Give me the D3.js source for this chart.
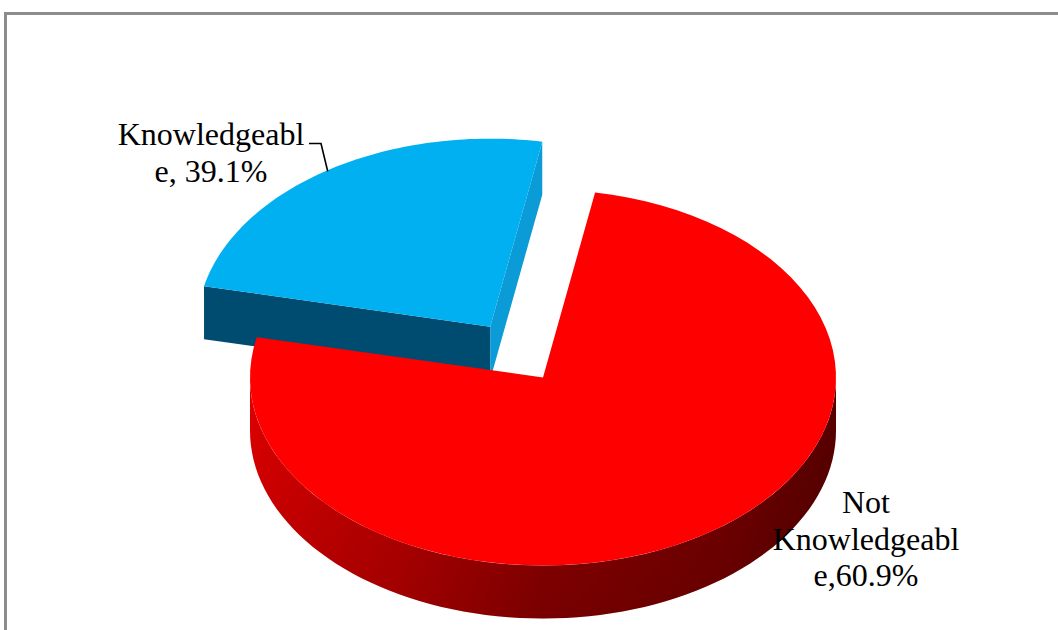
<!DOCTYPE html>
<html>
<head>
<meta charset="utf-8">
<script src="https://cdn.jsdelivr.net/npm/d3@7"></script>
<style>
  html, body { margin: 0; padding: 0; background: #ffffff; }
  svg { display: block; }
</style>
</head>
<body>
<svg id="chart" width="1058" height="630"></svg>
<script>
// ---------------- data ----------------
const categories = ["Knowledgeable", "Not Knowledgeable"];
// slice sizes as drawn in the picture (share of the full turn)
const drawnShares = [24.4, 75.6];
// percentages printed in the data labels
const labelPercents = [39.1, 60.9];
// which slice is pulled out
const exploded = [true, false];

// ---------------- layout & style ----------------
const W = 1058, H = 630;
const cx = 543, cy = 377.5, rx = 293, ry = 188, depth = 53;
const explodeK = 0.325;
const startAngleDeg = -77.6;
const colors = {
  top:   ["#00B0F0", "#FF0000"],
  left:  ["#004C70", "#B00000"],
  right: ["#0B9BD6", "#B00000"]
};

const svg = d3.select("#chart");
svg.append("rect").attr("width", W).attr("height", H).attr("fill", "#ffffff");

// outer frame
svg.append("rect")
  .attr("x", 5.5).attr("y", 13.5)
  .attr("width", 1100).attr("height", 700)
  .attr("fill", "none").attr("stroke", "#8c8c8c").attr("stroke-width", 3);

const defs = svg.append("defs");
const sideGrad = defs.append("linearGradient")
  .attr("id", "redSide").attr("gradientUnits", "userSpaceOnUse")
  .attr("x1", cx - rx).attr("y1", 0).attr("x2", cx + rx).attr("y2", 0);
[[0, "#e00000"], [0.25, "#c00000"], [0.5, "#930000"], [0.8, "#7a0000"], [1, "#5a0000"]]
  .forEach(([o, c]) => sideGrad.append("stop").attr("offset", o).attr("stop-color", c));
const shadeGrad = defs.append("linearGradient")
  .attr("id", "sideShade").attr("x1", 0).attr("y1", 0).attr("x2", 0).attr("y2", 1);
shadeGrad.append("stop").attr("offset", 0).attr("stop-color", "#000").attr("stop-opacity", 0);
shadeGrad.append("stop").attr("offset", 1).attr("stop-color", "#000").attr("stop-opacity", 0.18);

const toRad = d => d * Math.PI / 180;
const a0 = toRad(startAngleDeg);
const pie = d3.pie().sort(null).value(d => d).startAngle(a0).endAngle(a0 + 2 * Math.PI);
const arcs = pie(drawnShares);

const proj = (a, r, z, o) => [cx + o[0] + rx * r * Math.sin(a), cy + o[1] - ry * r * Math.cos(a) + z];
const line = d3.line();

function arcPoints(s, e, z, o, n = 80) {
  const pts = [];
  for (let i = 0; i <= n; i++) {
    const a = s + (e - s) * i / n;
    pts.push(proj(a, 1, z, o));
  }
  return pts;
}

const slices = arcs.map((d, i) => {
  const mid = (d.startAngle + d.endAngle) / 2;
  const o = exploded[i] ? [rx * explodeK * Math.sin(mid), -ry * explodeK * Math.cos(mid)] : [0, 0];
  return { d, i, mid, o };
});

// draw the pulled-out (back) slice first, then the front slice
const order = slices.slice().sort((a, b) => a.o[1] - b.o[1]);
const g = svg.append("g");

order.forEach(s => {
  const { d, i, o } = s;
  const sg = g.append("g").attr("class", "slice-" + i);
  // outer curved side (front half only)
  const vs = Math.max(d.startAngle, Math.PI / 2), ve = Math.min(d.endAngle, 3 * Math.PI / 2);
  if (ve > vs) {
    const pts = arcPoints(vs, ve, 0, o).concat(arcPoints(ve, vs, depth, o));
    sg.append("path").attr("d", line(pts) + "Z").attr("fill", i === 1 ? "url(#redSide)" : colors.left[i]);
    sg.append("path").attr("d", line(pts) + "Z").attr("fill", "url(#sideShade)");
  }
  // radial cut faces
  const v = proj(0, 0, 0, o), vb = proj(0, 0, depth, o);
  if (Math.sin(d.startAngle) < 0) {
    const p = proj(d.startAngle, 1, 0, o), pb = proj(d.startAngle, 1, depth, o);
    sg.append("path").attr("d", line([v, p, pb, vb]) + "Z").attr("fill", colors.left[i]);
  }
  if (Math.sin(d.endAngle) > 0) {
    const p = proj(d.endAngle, 1, 0, o), pb = proj(d.endAngle, 1, depth, o);
    sg.append("path").attr("d", line([v, p, pb, vb]) + "Z").attr("fill", colors.right[i]);
  }
  // top face
  const topPts = [v].concat(arcPoints(d.startAngle, d.endAngle, 0, o));
  sg.append("path").attr("d", line(topPts) + "Z").attr("fill", colors.top[i]);
});

// ---------------- labels ----------------
const fmt = p => d3.format(".1f")(p) + "%";
const labels = [
  { lines: ["Knowledgeabl", "e, " + fmt(labelPercents[0])], x: 211, y: 145 },
  { lines: ["Not", "Knowledgeabl", "e," + fmt(labelPercents[1])], x: 866, y: 513 }
];
const fontSize = 32, lineH = 36.5;
labels.forEach(l => {
  const t = svg.append("text")
    .attr("font-family", "'Liberation Serif', 'Times New Roman', serif")
    .attr("font-size", fontSize).attr("fill", "#000").attr("text-anchor", "middle");
  l.lines.forEach((s, k) => t.append("tspan").attr("x", l.x).attr("y", l.y + k * lineH).text(s));
});

// leader line for the pulled-out slice label
const bs = slices[0];
const tip = proj(bs.mid, 1, 0, bs.o);
svg.append("path")
  .attr("d", line([[309, 143.5], [321, 143.5], [tip[0], tip[1] + 1]]))
  .attr("fill", "none").attr("stroke", "#000").attr("stroke-width", 1.6);
</script>
</body>
</html>
